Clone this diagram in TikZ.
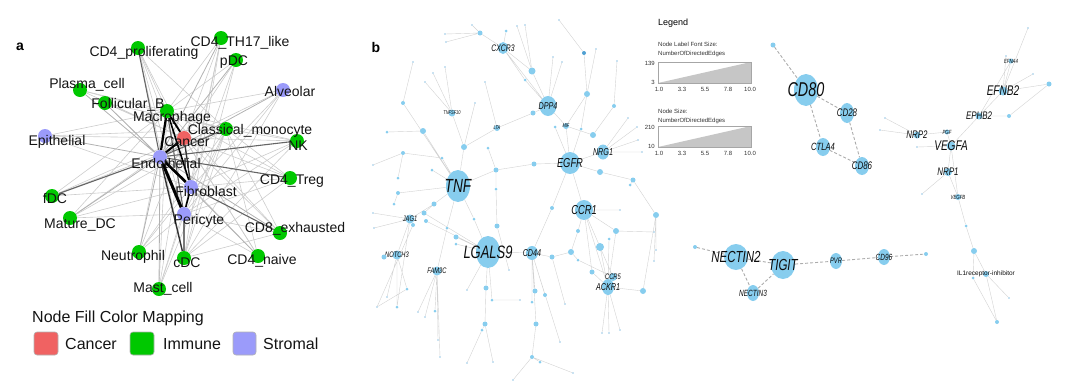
\documentclass[tikz,border=0pt]{standalone}
\usepackage{fontspec}
\setmainfont{Liberation Sans}
\usetikzlibrary{shapes.geometric,backgrounds}
\definecolor{canred}{RGB}{240,98,98}
\definecolor{immgreen}{RGB}{0,200,0}
\definecolor{strblue}{RGB}{155,155,250}
\definecolor{netblue}{RGB}{135,205,238}
\definecolor{dotblue}{RGB}{80,160,210}
\newcommand{\glab}[2]{\fontsize{#1}{#1}\selectfont\itshape\scalebox{0.72}[1]{#2}}
\tikzset{
  cell/.style={circle, minimum size=14pt, inner sep=0pt},
  imm/.style={cell, fill=immgreen},
  strc/.style={cell, fill=strblue},
  canc/.style={cell, fill=canred},
  alab/.style={font=\fontsize{14}{14}\selectfont, inner sep=0pt, text=black!92},
  lightedge/.style={draw=gray!40, line width=0.6pt},
  aedge/.style={draw=gray!60, line width=0.8pt},
  hub/.style={ellipse, fill=netblue, inner sep=0pt},
  gn/.style={circle, fill=netblue, inner sep=0pt, minimum size=#1},
  gn/.default=4pt,
  tip/.style={circle, fill=dotblue!60, inner sep=0pt, minimum size=1.6pt},
  bedge/.style={draw=gray!35, line width=0.4pt},
  dedge/.style={draw=gray!65, line width=0.9pt, dash pattern=on 3pt off 2pt},
  gl/.style={inner sep=0pt, text=black!95},
  swatch/.style={draw=gray!60, rounded corners=3pt, line width=0.6pt},
  lgtext/.style={font=\fontsize{16}{16}\selectfont, inner sep=0pt, anchor=west, text=black!92},
  tiny/.style={font=\fontsize{6}{6}\selectfont, inner sep=0pt, text=black!80}
}
\begin{document}
\begin{tikzpicture}[x=1pt,y=-1pt]
\useasboundingbox (0,0) rectangle (1080,381);
\node[font=\fontsize{14}{14}\selectfont\bfseries] (pa) at (20,47) {a};
\node[font=\fontsize{14}{14}\selectfont\bfseries] (pb) at (376,47) {b};
\node[imm] (cdp) at (138,48) {};
\node[imm] (th17) at (221,38) {};
\node[imm] (pdc) at (236,60) {};
\node[imm] (plasma) at (80,90) {};
\node[imm] (folb) at (105,103) {};
\node[strc] (alv) at (283,90) {};
\node[imm] (mac) at (167,111) {};
\node[imm] (cmono) at (226,129) {};
\node[canc] (cancer) at (184,138) {};
\node[strc] (epi) at (45,136) {};
\node[imm] (nk) at (297,141) {};
\node[strc] (endo) at (160,157) {};
\node[imm] (treg) at (290,178) {};
\node[strc] (fib) at (191,187) {};
\node[imm] (fdc) at (52,196) {};
\node[strc] (peri) at (184,214) {};
\node[imm] (mdc) at (70,218) {};
\node[imm] (cd8) at (280,233) {};
\node[imm] (neut) at (139,252) {};
\node[imm] (cdc) at (184,258) {};
\node[imm] (naive) at (258,256) {};
\node[imm] (mast) at (159,289) {};
\begin{scope}[on background layer]
\draw[lightedge] (cancer) -- (cdp) (cancer) -- (th17) (cancer) -- (pdc) (cancer) -- (alv) (cancer) -- (epi) (cancer) -- (nk) (cancer) -- (treg) (cancer) -- (cd8) (cancer) -- (naive) (cancer) -- (mast) (cancer) -- (neut) (cancer) -- (mdc) (cancer) -- (fdc) (cancer) -- (folb) (cancer) -- (plasma);
\draw[lightedge] (mac) -- (cdp) (mac) -- (th17) (mac) -- (pdc) (mac) -- (alv) (mac) -- (nk) (mac) -- (treg) (mac) -- (cd8) (mac) -- (naive) (mac) -- (mast) (mac) -- (neut) (mac) -- (mdc) (mac) -- (fdc) (mac) -- (epi) (mac) -- (plasma);
\draw[lightedge] (fib) -- (cdp) (fib) -- (nk) (fib) -- (treg) (fib) -- (naive) (fib) -- (mast) (fib) -- (mdc) (fib) -- (fdc) (fib) -- (epi) (fib) -- (folb) (fib) -- (alv) (fib) -- (pdc) (fib) -- (th17) (fib) -- (neut);
\draw[lightedge] (peri) -- (cdp) (peri) -- (cmono) (peri) -- (nk) (peri) -- (treg) (peri) -- (cd8) (peri) -- (naive) (peri) -- (mast) (peri) -- (neut) (peri) -- (mdc) (peri) -- (th17) (peri) -- (alv);
\draw[lightedge] (cmono) -- (cdp) (cmono) -- (neut) (cmono) -- (mast) (cmono) -- (cdc) (cmono) -- (naive) (cmono) -- (cd8) (cmono) -- (treg) (cmono) -- (nk) (cmono) -- (epi) (cmono) -- (folb) (cmono) -- (plasma) (cmono) -- (mdc) (cmono) -- (fdc);
\draw[lightedge] (cdc) -- (cdp) (cdc) -- (th17) (cdc) -- (cd8) (cdc) -- (nk) (cdc) -- (alv) (cdc) -- (treg) (cdc) -- (pdc);
\draw[aedge] (endo) -- (th17) (endo) -- (pdc) (endo) -- (plasma) (endo) -- (folb) (endo) -- (alv) (endo) -- (epi) (endo) -- (mdc) (endo) -- (cd8) (endo) -- (neut) (endo) -- (naive) (endo) -- (mast);
\draw[draw=gray!80!black, line width=1.1pt] (endo) -- (cdp) (endo) -- (treg) (endo) -- (nk) (endo) -- (fdc) (endo) -- (cmono) (fib) -- (cd8) (mac) -- (peri);
\draw[black, line width=2.2pt] (endo) -- (mac);
\draw[black, line width=2pt] (endo) -- (cancer);
\draw[black, line width=1.8pt] (mac) -- (cancer);
\draw[black, line width=2.6pt] (endo) -- (fib);
\draw[black, line width=3pt] (endo) -- (peri);
\draw[black, line width=1.6pt] (fib) -- (peri) (mac) -- (fib);
\draw[black!80, line width=1.4pt] (endo) -- (cdc) (peri) -- (cdc) (cancer) -- (fib);
\end{scope}
\node[alab] (cdp-l) at (144,53) {CD4\_proliferating};
\node[alab] (th17-l) at (240,43) {CD4\_TH17\_like};
\node[alab] (pdc-l) at (234,62) {pDC};
\node[alab] (plasma-l) at (87,85) {Plasma\_cell};
\node[alab] (folb-l) at (128,105) {Follicular\_B};
\node[alab] (alv-l) at (290,91) {Alveolar};
\node[alab] (mac-l) at (172,118) {Macrophage};
\node[alab] (cmono-l) at (250,131) {Classical\_monocyte};
\node[alab] (cancer-l) at (187,142) {Cancer};
\node[alab] (epi-l) at (57,142) {Epithelial};
\node[alab] (nk-l) at (298,146) {NK};
\node[alab] (endo-l) at (166,163) {Endothelial};
\node[alab] (treg-l) at (292,181) {CD4\_Treg};
\node[alab] (fib-l) at (206,191) {Fibroblast};
\node[alab] (fdc-l) at (55,198) {fDC};
\node[alab] (peri-l) at (199,221) {Pericyte};
\node[alab] (mdc-l) at (80,225) {Mature\_DC};
\node[alab] (cd8-l) at (295,229) {CD8\_exhausted};
\node[alab] (neut-l) at (133,257) {Neutrophil};
\node[alab] (cdc-l) at (187,263) {cDC};
\node[alab] (naive-l) at (262,261) {CD4\_naive};
\node[alab] (mast-l) at (163,289) {Mast\_cell};
\node[lgtext] (fillmap) at (32,318) {Node Fill Color Mapping};
\draw[swatch, fill=canred] (34,332) rectangle (58,355);
\node[lgtext] (lg-canc) at (65,344) {Cancer};
\draw[swatch, fill=immgreen] (130,332) rectangle (154,355);
\node[lgtext] (lg-imm) at (163,344) {Immune};
\draw[swatch, fill=strblue] (233,332) rectangle (256,355);
\node[lgtext] (lg-str) at (263,344) {Stromal};
\node[tip] (t1) at (445,34) {};
\node[tip] (t2) at (446,42) {};
\node[tip] (t3) at (472,25) {};
\node[gn=5pt] (cxcl) at (480,33) {};
\node[gn=3pt] (n1) at (506,31) {};
\node[hub, minimum width=10pt, minimum height=12pt, label={[gl]center:{\glab{9.5}{CXCR3}}}] (cxcr3) at (503,48) {};
\node[gn=7pt] (gbp) at (532,71) {};
\node[gn=3pt] (n2) at (525,80) {};
\node[tip] (t4) at (517,26) {};
\node[tip] (t5) at (525,25) {};
\node[tip] (t6) at (553,57) {};
\node[tip] (t7) at (562,62) {};
\node[hub, minimum width=17pt, minimum height=20pt, label={[gl]center:{\glab{10}{DPP4}}}] (dpp4) at (548,106) {};
\node[gn=5pt] (n3) at (533,113) {};
\node[gn=6pt, label={[gl]center:{\glab{5.5}{LTA}}}] (lta) at (497,128) {};
\node[tip] (t8) at (485,82) {};
\node[tip] (t9) at (475,103) {};
\node[gn=7pt, label={[gl]center:{\glab{5.5}{TNFSF10}}}] (tnfsf10) at (452,113) {};
\node[tip] (t10) at (433,73) {};
\node[tip] (t11) at (445,67) {};
\node[tip] (t12) at (425,82) {};
\node[gn=6pt] (n4) at (464,147) {};
\node[gn=4pt] (n5) at (403,103) {};
\node[tip] (t13) at (413,62) {};
\node[gn=6pt] (n6) at (423,131) {};
\node[gn=3pt] (n7) at (387,132) {};
\node[gn=4pt] (n8) at (403,153) {};
\node[tip] (t14) at (373,165) {};
\node[gn=3pt] (n9) at (398,178) {};
\node[gn=3pt] (n10) at (442,158) {};
\node[gn=3pt] (n11) at (432,170) {};
\node[gn=3pt] (n12) at (488,148) {};
\node[gn=5pt] (n13) at (496,170) {};
\node[hub, minimum width=24pt, minimum height=32pt, label={[gl]center:{\glab{19}{TNF}}}] (tnf) at (458,186) {};
\node[tip] (t15) at (559,20) {};
\node[gn=4pt, fill=dotblue] (n15) at (584,53) {};
\node[tip] (t16) at (596,49) {};
\node[gn=6pt] (n16) at (587,94) {};
\node[tip] (t17) at (617,61) {};
\node[gn=4pt] (n17) at (614,106) {};
\node[gn=6pt, label={[gl]center:{\glab{5.5}{MIF}}}] (mif) at (566,126) {};
\node[gn=3pt] (n18) at (555,127) {};
\node[gn=3pt] (n19) at (581,129) {};
\node[gn=6pt] (n20) at (593,135) {};
\node[hub, minimum width=12pt, minimum height=15pt, label={[gl]center:{\glab{10}{NRG1}}}] (nrg1) at (603,152) {};
\node[tip] (t18) at (628,118) {};
\node[tip] (t19) at (637,127) {};
\node[tip] (t20) at (638,140) {};
\node[tip] (t21) at (642,152) {};
\node[hub, minimum width=20pt, minimum height=22pt, label={[gl]center:{\glab{13}{EGFR}}}] (egfr) at (570,163) {};
\node[gn=5pt] (n14) at (534,164) {};
\node[gn=6pt] (n21) at (600,172) {};
\node[gn=5pt] (n22) at (633,180) {};
\node[gn=3pt] (n23) at (630,185) {};
\node[gn=4pt] (n25) at (398,193) {};
\node[gn=3pt] (n26) at (394,204) {};
\node[gn=5pt] (n27) at (434,204) {};
\node[gn=5pt] (n28) at (424,213) {};
\node[gn=4pt] (n29) at (426,221) {};
\node[gn=9pt, label={[gl]center:{\glab{8}{JAG1}}}] (jag1) at (410,219) {};
\node[gn=4pt] (n30) at (413,225) {};
\node[gn=3pt] (n31) at (447,228) {};
\node[gn=5pt] (n32) at (456,237) {};
\node[gn=3pt] (n33) at (456,244) {};
\node[gn=3pt] (n34) at (474,219) {};
\node[gn=3pt] (n35) at (496,189) {};
\node[gn=5pt] (n36) at (497,226) {};
\node[hub, minimum width=24pt, minimum height=32pt, label={[gl]center:{\glab{18}{LGALS9}}}] (lgals9) at (488,252) {};
\node[gn=9pt, label={[gl]center:{\glab{8}{NOTCH3}}}] (notch3) at (397,255) {};
\node[gn=5pt] (n37) at (384,257) {};
\node[gn=9pt, label={[gl]center:{\glab{8}{FAM3C}}}] (fam3c) at (437,271) {};
\node[gn=3pt] (n38) at (407,289) {};
\node[gn=3pt] (n39) at (397,307) {};
\node[gn=5pt] (n40) at (486,288) {};
\node[gn=3pt] (n41) at (492,300) {};
\node[gn=5pt] (n42) at (485,324) {};
\node[gn=3pt] (n43) at (482,330) {};
\node[gn=3pt] (n44) at (435,311) {};
\node[tip] (t22) at (373,213) {};
\node[tip] (t23) at (374,228) {};
\node[tip] (t24) at (377,307) {};
\node[tip] (t25) at (387,297) {};
\node[tip] (t26) at (418,312) {};
\node[tip] (t27) at (425,317) {};
\node[tip] (t28) at (438,340) {};
\node[tip] (t29) at (467,290) {};
\node[tip] (t30) at (509,270) {};
\node[tip] (t31) at (520,300) {};
\node[tip] (t32) at (467,363) {};
\node[tip] (t33) at (493,362) {};
\node[tip] (t34) at (513,380) {};
\node[tip] (t35) at (440,357) {};
\node[gn=4pt] (n45) at (532,357) {};
\node[gn=3pt] (n60) at (540,362) {};
\node[tip] (t37) at (573,373) {};
\node[gn=4pt] (n24) at (552,208) {};
\node[hub, minimum width=12pt, minimum height=14pt, label={[gl]center:{\glab{10}{CD44}}}] (cd44) at (532,253) {};
\node[gn=5pt] (n46) at (552,257) {};
\node[gn=6pt] (n47) at (571,252) {};
\node[gn=8pt] (n48) at (600,247) {};
\node[gn=4pt] (n49) at (578,231) {};
\node[gn=3pt] (n50) at (578,260) {};
\node[hub, minimum width=18pt, minimum height=20pt, label={[gl]center:{\glab{13}{CCR1}}}] (ccr1) at (584,210) {};
\node[tip] (t38) at (620,210) {};
\node[gn=6pt] (n51) at (616,231) {};
\node[gn=3pt] (n52) at (609,239) {};
\node[gn=6pt] (n53) at (656,215) {};
\node[tip] (t39) at (654,232) {};
\node[gn=5pt] (n54) at (592,272) {};
\node[gn=8pt, label={[gl]center:{\glab{8}{CCR5}}}] (ccr5) at (613,277) {};
\node[hub, minimum width=12pt, minimum height=16pt, label={[gl]center:{\glab{10}{ACKR1}}}] (ackr1) at (608,287) {};
\node[gn=6pt] (n55) at (643,291) {};
\node[tip] (t40) at (656,250) {};
\node[tip] (t41) at (654,261) {};
\node[gn=5pt] (n56) at (535,291) {};
\node[gn=4pt] (n57) at (545,295) {};
\node[gn=3pt] (n58) at (532,302) {};
\node[gn=5pt] (n59) at (536,324) {};
\node[tip] (t42) at (565,304) {};
\node[tip] (t43) at (560,342) {};
\node[tip] (t44) at (602,333) {};
\node[tip] (t45) at (609,333) {};
\node[tip] (t46) at (620,330) {};
\begin{scope}[on background layer]
\draw[bedge] (cxcl) -- (t1) (cxcl) -- (t2) (cxcl) -- (t3) (cxcl) -- (cxcr3) (n1) -- (cxcr3) (cxcr3) -- (gbp) (cxcr3) -- (n2) (cxcr3) -- (dpp4) (t4) -- (gbp) (t5) -- (gbp) (gbp) -- (dpp4) (n2) -- (dpp4) (t6) -- (dpp4) (t7) -- (dpp4) (dpp4) -- (n3) (n3) -- (lta) (lta) -- (t8) (lta) -- (n4) (t9) -- (n4) (tnfsf10) -- (t10) (tnfsf10) -- (t11) (tnfsf10) -- (t12) (tnfsf10) -- (n4) (n4) -- (tnf) (n5) -- (t13) (n5) -- (tnf) (n6) -- (n7) (n6) -- (tnf) (n8) -- (t14) (n8) -- (n10) (n10) -- (tnf) (n11) -- (tnf) (n8) -- (n9) (tnf) -- (n13) (n12) -- (n13) (n13) -- (n14) (n14) -- (egfr) (dpp4) -- (mif) (mif) -- (egfr);
\draw[bedge] (t15) -- (n15) (n15) -- (n16) (t16) -- (n16) (n16) -- (mif) (n16) -- (n19) (n19) -- (egfr) (n18) -- (egfr) (mif) -- (n20) (t17) -- (n17) (n17) -- (n20) (nrg1) -- (t18) (nrg1) -- (t19) (nrg1) -- (t20) (nrg1) -- (t21) (nrg1) -- (egfr) (egfr) -- (n21) (n21) -- (n22) (n22) -- (n23) (egfr) -- (ccr1) (egfr) -- (n24);
\draw[bedge] (tnf) -- (n25) (n25) -- (n26) (tnf) -- (n27) (n27) -- (jag1) (n27) -- (n28) (n28) -- (lgals9) (n29) -- (lgals9) (jag1) -- (t22) (jag1) -- (t23) (jag1) -- (notch3) (jag1) -- (n30) (n30) -- (t24) (jag1) -- (n39) (notch3) -- (n37) (notch3) -- (t25) (notch3) -- (n38) (n38) -- (t24) (notch3) -- (n39) (tnf) -- (n31) (n31) -- (fam3c) (n32) -- (lgals9) (n33) -- (lgals9) (tnf) -- (n34) (n34) -- (lgals9) (n13) -- (n35) (n35) -- (n36) (n36) -- (t30) (fam3c) -- (t26) (fam3c) -- (t27) (fam3c) -- (n44) (fam3c) -- (t28) (fam3c) -- (t35) (lgals9) -- (t29) (lgals9) -- (n40) (n40) -- (n42) (n42) -- (n43) (n43) -- (t32) (n42) -- (t33) (lgals9) -- (n41) (n41) -- (t31) (lgals9) -- (cd44) (n45) -- (t34) (n45) -- (n60) (n59) -- (n45) (n45) -- (t37);
\draw[bedge] (n24) -- (cd44) (cd44) -- (n46) (n46) -- (n47) (n47) -- (n49) (ccr1) -- (n49) (ccr1) -- (t38) (ccr1) -- (n48) (ccr1) -- (ackr1) (ccr1) -- (ccr5) (ccr1) -- (n54) (ccr1) -- (n51) (n51) -- (t39) (n51) -- (ackr1) (n52) -- (ackr1) (n48) -- (ackr1) (n54) -- (ackr1) (n50) -- (ccr5) (n47) -- (n50) (n22) -- (n53) (n53) -- (n55) (t40) -- (n53) (t41) -- (n53) (ackr1) -- (n55) (ackr1) -- (t44) (ackr1) -- (t45) (ackr1) -- (t46) (cd44) -- (n56) (cd44) -- (n57) (cd44) -- (n58) (cd44) -- (n59) (cd44) -- (t43) (n46) -- (t42);
\end{scope}
\node[font=\fontsize{9}{9}\selectfont, inner sep=0pt, anchor=west] (lgd) at (658,23) {Legend};
\node[tiny, anchor=west] (lfs1) at (658,44) {Node Label Font Size:};
\node[tiny, anchor=west] (lfs2) at (658,54) {NumberOfDirectedEdges};
\fill[gray!45] (658,83) -- (751,62) -- (751,83) -- cycle;
\draw[gray!70, line width=0.5pt] (658,62) rectangle (751,83);
\node[tiny, anchor=east] (m139) at (655,63) {139};
\node[tiny, anchor=east] (m3) at (655,82) {3};
\node[tiny] (a10) at (659,89) {1.0};
\node[tiny] (a33) at (682,89) {3.3};
\node[tiny] (a55) at (705,89) {5.5};
\node[tiny] (a78) at (728,89) {7.8};
\node[tiny] (a100) at (750,89) {10.0};
\node[tiny, anchor=west] (ns1) at (658,111) {Node Size:};
\node[tiny, anchor=west] (ns2) at (658,121) {NumberOfDirectedEdges};
\fill[gray!45] (658,147) -- (751,126) -- (751,147) -- cycle;
\draw[gray!70, line width=0.5pt] (658,126) rectangle (751,147);
\node[tiny, anchor=east] (m210) at (655,127) {210};
\node[tiny, anchor=east] (m10) at (655,146) {10};
\node[tiny] (b10) at (659,153) {1.0};
\node[tiny] (b33) at (682,153) {3.3};
\node[tiny] (b55) at (705,153) {5.5};
\node[tiny] (b78) at (728,153) {7.8};
\node[tiny] (b100) at (750,153) {10.0};
\node[gn=5pt] (c80s) at (773,45) {};
\node[hub, minimum width=24pt, minimum height=32pt, label={[gl]center:{\glab{20}{CD80}}}] (cd80) at (806,90) {};
\node[hub, minimum width=14pt, minimum height=20pt, label={[gl]center:{\glab{11}{CD28}}}] (cd28) at (847,113) {};
\node[hub, minimum width=14pt, minimum height=18pt, label={[gl]center:{\glab{10.5}{CTLA4}}}] (ctla4) at (823,147) {};
\node[hub, minimum width=14pt, minimum height=18pt, label={[gl]center:{\glab{11}{CD86}}}] (cd86) at (862,166) {};
\node[gn=4pt] (tgs) at (695,247) {};
\node[hub, minimum width=24pt, minimum height=26pt, label={[gl]center:{\glab{16}{NECTIN2}}}] (nectin2) at (736,257) {};
\node[hub, minimum width=24pt, minimum height=28pt, label={[gl]center:{\glab{16}{TIGIT}}}] (tigit) at (783,265) {};
\node[hub, minimum width=12pt, minimum height=16pt, label={[gl]center:{\glab{9}{NECTIN3}}}] (nectin3) at (753,293) {};
\node[hub, minimum width=12pt, minimum height=16pt, label={[gl]center:{\glab{8}{PVR}}}] (pvr) at (836,261) {};
\node[hub, minimum width=12pt, minimum height=16pt, label={[gl]center:{\glab{9}{CD96}}}] (cd96) at (884,257) {};
\node[gn=4pt] (c96s) at (926,254) {};
\node[tip] (v1) at (1028,28) {};
\node[tip] (v2) at (1033,74) {};
\node[tip] (v3) at (1006,56) {};
\node[tip] (v4) at (885,118) {};
\node[tip] (v5) at (880,130) {};
\node[tip] (v6) at (917,147) {};
\node[tip] (v7) at (922,194) {};
\node[tip] (v8) at (1009,298) {};
\node[gn=5pt, label={[gl]center:{\glab{6}{EFNA4}}}] (efna4) at (1011,61) {};
\node[gn=9pt, label={[gl]center:{\glab{14}{EFNB2}}}] (efnb2) at (1003,91) {};
\node[gn=5pt] (v9) at (1049,84) {};
\node[gn=7pt, label={[gl]center:{\glab{11}{EPHB2}}}] (ephb2) at (979,116) {};
\node[gn=4pt] (v10) at (1009,116) {};
\node[gn=7pt, label={[gl]center:{\glab{11}{NRP2}}}] (nrp2) at (917,135) {};
\node[gn=5pt, label={[gl]center:{\glab{6}{PGF}}}] (pgf) at (947,132) {};
\node[gn=9pt, label={[gl]center:{\glab{14}{VEGFA}}}] (vegfa) at (951,146) {};
\node[gn=8pt, label={[gl]center:{\glab{11}{NRP1}}}] (nrp1) at (948,172) {};
\node[gn=6pt, label={[gl]center:{\glab{6}{VEGFB}}}] (vegfb) at (958,197) {};
\node[gn=3pt] (v11) at (966,226) {};
\node[gn=6pt] (il1r) at (974,251) {};
\node[gn=6pt, label={[gl, font=\fontsize{6.5}{6.5}\selectfont]center:IL1receptor-inhibitor}] (il1ri) at (986,274) {};
\node[gn=3pt] (v12) at (973,278) {};
\node[gn=4pt] (v13) at (997,322) {};
\begin{scope}[on background layer]
\draw[dedge] (c80s) -- (cd80) (cd80) -- (cd28) (cd80) -- (ctla4) (cd28) -- (cd86) (ctla4) -- (cd86);
\draw[dedge] (tgs) -- (nectin2) (nectin2) -- (tigit) (nectin2) -- (nectin3) (nectin3) -- (tigit) (tigit) -- (pvr) (pvr) -- (cd96) (cd96) -- (c96s);
\draw[bedge] (efnb2) -- (v1) (efnb2) -- (efna4) (efna4) -- (ephb2) (efnb2) -- (v3) (efnb2) -- (v2) (efnb2) -- (v9) (v9) -- (v10) (efnb2) -- (ephb2) (ephb2) -- (v10) (ephb2) -- (vegfa) (nrp2) -- (v4) (nrp2) -- (v5) (nrp2) -- (pgf) (pgf) -- (vegfa) (vegfa) -- (v6) (vegfa) -- (nrp1) (vegfa) -- (vegfb) (nrp1) -- (v7) (nrp1) -- (vegfb) (vegfb) -- (v11) (v11) -- (il1r) (il1r) -- (il1ri) (il1r) -- (v12) (v12) -- (v13) (il1ri) -- (v13) (il1ri) -- (v8);
\end{scope}
\end{tikzpicture}
\end{document}
